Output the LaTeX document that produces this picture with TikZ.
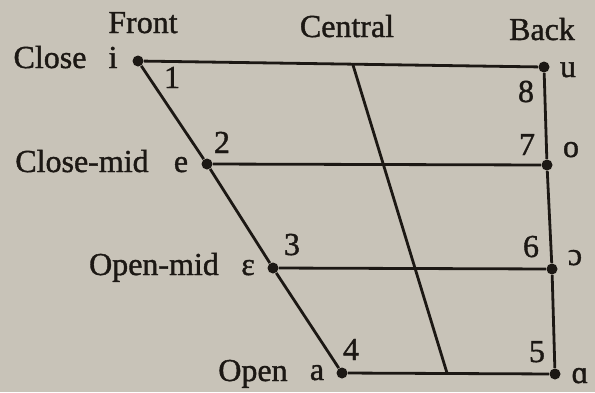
\documentclass[tikz,border=0pt]{standalone}
\usepackage{fontspec}
\setmainfont{Liberation Serif}[FakeBold=1.2]
\usepackage{xcolor}
\usetikzlibrary{positioning}
\definecolor{paper}{RGB}{200,195,184}
\definecolor{ink}{RGB}{28,24,20}

\begin{document}
\begin{tikzpicture}[x=0.5pt,y=-0.5pt,
    every node/.style={text=ink,font=\fontsize{16}{19}\selectfont,inner sep=0pt},
    vowel/.style={circle,fill=ink,minimum size=5.5pt,inner sep=0pt},
    lbl/.style={anchor=base}]
    \fill[paper] (0,0) rectangle (595,392);
    \useasboundingbox (0,0) rectangle (595,392);
    % vowel points
    \node[vowel] (i) at (138,61) {};
    \node[vowel] (e) at (207,164) {};
    \node[vowel] (eps) at (273,268) {};
    \node[vowel] (a) at (342,373) {};
    \node[vowel] (u) at (544,67) {};
    \node[vowel] (o) at (547,165) {};
    \node[vowel] (oo) at (552,269) {};
    \node[vowel] (aa) at (555,374) {};
    \coordinate (ctop) at (353,65);
    \coordinate (cbot) at (447,373);
    % chart
    \begin{scope}[draw=ink, line width=1.4pt]
        \draw (i) -- (u);
        \draw (e) -- (o);
        \draw (eps) -- (oo);
        \draw (a) -- (aa);
        \draw (i) -- (e) -- (eps) -- (a);
        \draw (u) -- (o) -- (oo) -- (aa);
        \draw (ctop) -- (cbot);
    \end{scope}
    % headings
    \node[lbl] (front) at (143,33) {Front};
    \node[lbl] (central) at (347,37) {Central};
    \node[lbl] (back) at (542,40) {Back};
    \node[lbl] (close) at (50,68) {Close};
    \node[lbl] (closemid) at (82,172) {Close-mid};
    \node[lbl] (openmid) at (154,275) {Open-mid};
    \node[lbl] (open) at (253,381) {Open};
    % symbols
    \node[lbl] at (113,68) {i};
    \node[lbl] at (181,172) {e};
    \node[lbl] at (248,275) {ɛ};
    \node[lbl] at (317,380) {a};
    \node[lbl] at (568,77) {u};
    \node[lbl] at (571,157) {o};
    \node[lbl] at (575,265) {ɔ};
    \node[lbl] at (580,383) {ɑ};
    % numbers
    \node[lbl] at (172,88) {1};
    \node[lbl] at (222,153) {2};
    \node[lbl] at (292,255) {3};
    \node[lbl] at (351,360) {4};
    \node[lbl] at (537,362) {5};
    \node[lbl] at (531,257) {6};
    \node[lbl] at (527,155) {7};
    \node[lbl] at (526,102) {8};
\end{tikzpicture}
\end{document}
